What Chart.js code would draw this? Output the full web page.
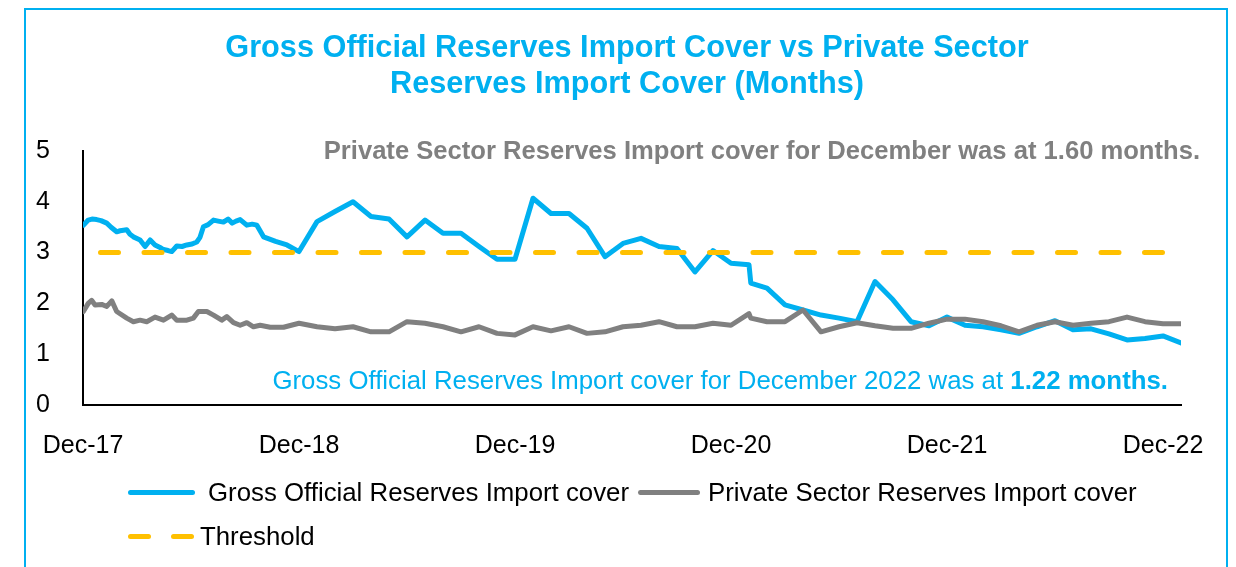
<!DOCTYPE html>
<html>
<head>
<meta charset="utf-8">
<script src="https://cdn.jsdelivr.net/npm/chart.js@4.4.0/dist/chart.umd.min.js"></script>
<style>
  html, body { margin: 0; padding: 0; background: #fff; }
  body { width: 1236px; height: 567px; overflow: hidden; position: relative; font-family: "Liberation Sans", Arial, sans-serif; }
  #frame { position: absolute; left: 24px; top: 8px; width: 1200px; height: 620px; border: 2px solid #00B0F0; }
  #chart { position: absolute; left: 0; top: 0; }
  #title { position: absolute; left: 0; top: 29px; width: 1254px; text-align: center; color: #00B0F0; font-weight: bold; font-size: 30.7px; line-height: 36px; }
  .note { position: absolute; line-height: 26px; white-space: nowrap; }
  #privNote { right: 36px; top: 137px; color: #808080; font-weight: bold; font-size: 25.6px; }
  #grossNote { right: 68px; top: 367px; color: #00B0F0; font-size: 25.8px; }
  .swatch { position: absolute; height: 5px; border-radius: 3px; }
  .lg { position: absolute; font-size: 25.8px; line-height: 30px; color: #000; white-space: nowrap; }
</style>
</head>
<body>
<div id="frame"></div>
<canvas id="chart" width="1236" height="567"></canvas>
<div id="title">Gross Official Reserves Import Cover vs Private Sector<br>Reserves Import Cover (Months)</div>
<div class="note" id="privNote"></div>
<div class="note" id="grossNote"></div>

<div class="swatch" style="left:128px; top:490px; width:67px; background:#00B0F0;"></div>
<div class="lg" style="left:208px; top:477px;">Gross Official Reserves Import cover</div>
<div class="swatch" style="left:638px; top:490px; width:62px; background:#808080;"></div>
<div class="lg" style="left:708px; top:477px;">Private Sector Reserves Import cover</div>
<div class="swatch" style="left:128px; top:534px; width:23px; background:#FFC000;"></div>
<div class="swatch" style="left:171px; top:534px; width:23px; background:#FFC000;"></div>
<div class="lg" style="left:200px; top:521px;">Threshold</div>

<script>
// axis ticks (months since Dec-17)
const tickMonths = [0, 12, 24, 36, 48, 60];
const tickLabels = ['Dec-17', 'Dec-18', 'Dec-19', 'Dec-20', 'Dec-21', 'Dec-22'];

// first year is weekly
const weeklyGrossMonths = [0.02, 0.29, 0.5, 0.76, 1.0, 1.32, 1.56, 1.87, 2.06, 2.43, 2.61, 2.8, 3.17, 3.45, 3.73,
  4.0, 4.28, 4.47, 4.73, 4.93, 5.21, 5.5, 5.77, 6.06, 6.32, 6.5, 6.69, 6.95, 7.25, 7.51, 7.8, 8.06, 8.29, 8.5,
  8.73, 9.1, 9.4, 9.66, 10.03, 10.7, 11.33];
const weeklyGross = [3.54, 3.64, 3.66, 3.65, 3.63, 3.58, 3.5, 3.41, 3.43, 3.45, 3.36, 3.31, 3.25, 3.12, 3.25,
  3.15, 3.1, 3.06, 3.04, 3.02, 3.13, 3.12, 3.15, 3.17, 3.21, 3.3, 3.51, 3.55, 3.64, 3.62, 3.6, 3.66, 3.58, 3.62,
  3.65, 3.54, 3.56, 3.54, 3.31, 3.22, 3.15];

const weeklyPrivateMonths = [0.02, 0.29, 0.48, 0.67, 1.04, 1.32, 1.6, 1.87, 2.43, 2.8, 3.17, 3.54, 4.0, 4.47, 4.93,
  5.21, 5.77, 6.13, 6.41, 6.88, 7.25, 7.71, 7.99, 8.36, 8.73, 9.1, 9.47, 9.84, 10.4, 11.14];
const weeklyPrivate = [1.84, 2.0, 2.06, 1.97, 1.98, 1.94, 2.05, 1.84, 1.71, 1.64, 1.67, 1.64, 1.73, 1.67, 1.77,
  1.67, 1.67, 1.71, 1.84, 1.84, 1.77, 1.67, 1.74, 1.62, 1.57, 1.62, 1.54, 1.57, 1.53, 1.53];

// month-end values from Nov-18 to Dec-22 (month 12 .. 61)
const monthlyStart = 12;
const monthlyGross = [3.02, 3.61, 3.81, 4.00, 3.71, 3.66, 3.31, 3.64, 3.38, 3.38,
  3.12, 2.87, 2.87, 4.07, 3.77, 3.77, 3.48, 2.92, 3.18, 3.28,
  3.12, 3.08, 2.62, 3.04, 2.79, 2.76, 2.30, 1.97, 1.87, 1.77,
  1.71, 1.64, 2.43, 2.07, 1.64, 1.56, 1.73, 1.57, 1.54, 1.48,
  1.41, 1.54, 1.66, 1.48, 1.50, 1.40, 1.28, 1.31, 1.36, 1.22];
const monthlyPrivate = [1.61, 1.54, 1.50, 1.54, 1.44, 1.44, 1.64, 1.61, 1.54, 1.44,
  1.54, 1.41, 1.38, 1.54, 1.46, 1.54, 1.41, 1.44, 1.54, 1.57,
  1.64, 1.54, 1.54, 1.61, 1.57, 1.80, 1.64, 1.64, 1.87, 1.44,
  1.54, 1.62, 1.56, 1.51, 1.51, 1.61, 1.69, 1.69, 1.64, 1.56,
  1.44, 1.57, 1.64, 1.57, 1.61, 1.64, 1.73, 1.64, 1.60, 1.60];

// mid-month reading (Jan-21)
const extraMonths = [37.1];
const extraGross = [2.40];
const extraPrivate = [1.71];

const threshold = 3;

function buildSeries(wx, wy, monthly, ex, ey) {
  const pts = wx.map((m, i) => ({ x: m, y: wy[i] }));
  monthly.forEach((v, i) => pts.push({ x: monthlyStart + i, y: v }));
  ex.forEach((m, i) => pts.push({ x: m, y: ey[i] }));
  return pts.sort((a, b) => a.x - b.x);
}

const grossPoints = buildSeries(weeklyGrossMonths, weeklyGross, monthlyGross, extraMonths, extraGross);
const privatePoints = buildSeries(weeklyPrivateMonths, weeklyPrivate, monthlyPrivate, extraMonths, extraPrivate);
const lastMonth = monthlyStart + monthlyGross.length - 1;
const thresholdPoints = [{ x: 0, y: threshold }, { x: lastMonth, y: threshold }];

document.getElementById('privNote').textContent =
  'Private Sector Reserves Import cover for December was at ' + monthlyPrivate[monthlyPrivate.length - 1].toFixed(2) + ' months.';
document.getElementById('grossNote').innerHTML =
  'Gross Official Reserves Import cover for December 2022 was at <b>' + monthlyGross[monthlyGross.length - 1].toFixed(2) + ' months.</b>';

const axisFont = { family: '"Liberation Sans", Arial, sans-serif', size: 25 };

new Chart(document.getElementById('chart'), {
  type: 'line',
  data: {
    datasets: [
      { label: 'Gross Official Reserves Import cover', data: grossPoints, borderColor: '#00B0F0', borderWidth: 5, order: 2 },
      { label: 'Private Sector Reserves Import cover', data: privatePoints, borderColor: '#808080', borderWidth: 5, order: 1 },
      { label: 'Threshold', data: thresholdPoints, borderColor: '#FFC000', borderWidth: 5,
        borderDash: [18, 25.5], borderDashOffset: 26, order: 0 }
    ]
  },
  options: {
    responsive: false,
    animation: false,
    elements: {
      point: { radius: 0 },
      line: { tension: 0, borderJoinStyle: 'round', borderCapStyle: 'round' }
    },
    layout: { padding: { left: 0, right: 55, top: 151, bottom: 112 } },
    plugins: { legend: { display: false }, title: { display: false }, tooltip: { enabled: false } },
    scales: {
      x: {
        type: 'linear', min: 0, max: lastMonth,
        grid: { display: false },
        border: { display: true, color: '#000', width: 2 },
        afterBuildTicks: s => { s.ticks = tickMonths.map(v => ({ value: v })); },
        afterFit: s => { s.height = 50; },
        ticks: { callback: (v, i) => tickLabels[i], font: axisFont, color: '#000', padding: 18, maxRotation: 0, autoSkip: false }
      },
      y: {
        min: 0, max: 5,
        grid: { display: false },
        border: { display: true, color: '#000', width: 2 },
        afterFit: s => { s.width = 83; },
        ticks: { stepSize: 1, font: axisFont, color: '#000', padding: 25 }
      }
    }
  }
});
</script>
</body>
</html>
